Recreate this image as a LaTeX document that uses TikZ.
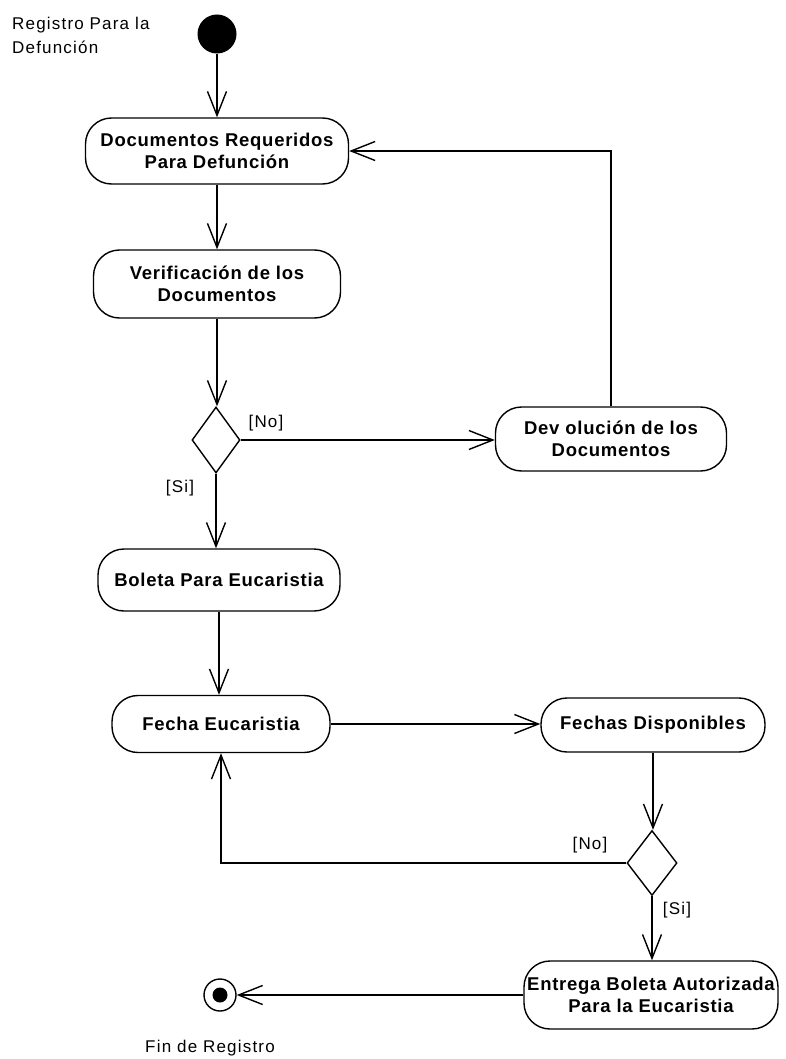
\documentclass[tikz,border=0pt]{standalone}
\usepackage{fontspec}
\usetikzlibrary{arrows.meta,shapes.geometric}
\newfontfamily\lblfont{Liberation Sans}[LetterSpace=7]
\newfontfamily\actfont{Liberation Sans}[LetterSpace=4]
\begin{document}
\begin{tikzpicture}[x=1pt,y=-1pt,
  act/.style={draw, line width=1.4pt, rounded corners=26pt, align=center,
    inner sep=1pt, font=\actfont\bfseries\fontsize{18.5}{22.5}\selectfont},
  decision/.style={draw, diamond, line width=1.4pt, inner sep=0pt,
    minimum width=48pt, minimum height=66pt},
  guard/.style={inner sep=0pt, font=\lblfont\fontsize{17}{24}\selectfont},
  flow/.style={line width=1.4pt, -{Straight Barb[length=24pt,width=19pt,line width=1.4pt]}}
]
\useasboundingbox (0,0) rectangle (785,1059);

% initial and final states
\node[circle, fill=black, minimum size=39pt, inner sep=0pt] (start) at (217,34) {};
\node[circle, draw, line width=1.4pt, minimum size=32pt, inner sep=0pt] (fin) at (220,995) {};
\fill (fin.center) circle (7.5pt);

% activities
\node[act, minimum width=263pt, minimum height=66pt] (docs) at (217,151)
  {Documentos Requeridos\\Para Defunción};
\node[act, minimum width=247pt, minimum height=68pt] (verif) at (217,284)
  {Verificación de los\\Documentos};
\node[act, minimum width=231pt, minimum height=64pt] (devol) at (611,439)
  {Dev olución de los\\Documentos};
\node[act, minimum width=242pt, minimum height=62pt] (boleta) at (219,580)
  {Boleta Para Eucaristia};
\node[act, minimum width=218pt, minimum height=57pt] (fecha) at (221,724)
  {Fecha Eucaristia};
\node[act, minimum width=224pt, minimum height=54pt] (disp) at (653,725)
  {Fechas Disponibles};
\node[act, minimum width=254pt, minimum height=68pt] (entrega) at (651,995)
  {Entrega Boleta Autorizada\\Para la Eucaristia};

% decisions
\node[decision] (dec1) at (216,440) {};
\node[decision, minimum width=50pt, minimum height=65pt] (dec2) at (652,863) {};

% texts
\node[guard, anchor=north west, align=left] (title) at (12,17)
  {Registro Para la\\Defunción};
\node[guard] (fintxt) at (210,1048) {Fin de Registro};
\node[guard] (no1) at (266,423) {[No]};
\node[guard] (si1) at (180,488) {[Si]};
\node[guard] (no2) at (590,845) {[No]};
\node[guard] (si2) at (677,910) {[Si]};

% transitions
\draw[flow] (start.south) -- (start.south |- docs.north);
\draw[flow] (docs.south) -- (docs.south |- verif.north);
\draw[flow] (verif.south) -- (verif.south |- dec1.north);
\draw[flow] (dec1.east) -- (dec1.east -| devol.west);
\draw[flow] (devol.north) |- (docs.east);
\draw[flow] (dec1.south) -- (dec1.south |- boleta.north);
\draw[flow] (boleta.south) -- (boleta.south |- fecha.north);
\draw[flow] (fecha.east) -- (fecha.east -| disp.west);
\draw[flow] (disp.south) -- (disp.south |- dec2.north);
\draw[flow] (dec2.west) -| (fecha.south);
\draw[flow] (dec2.south) -- (dec2.south |- entrega.north);
\draw[flow] (entrega.west) -- (fin.east);
\end{tikzpicture}
\end{document}
